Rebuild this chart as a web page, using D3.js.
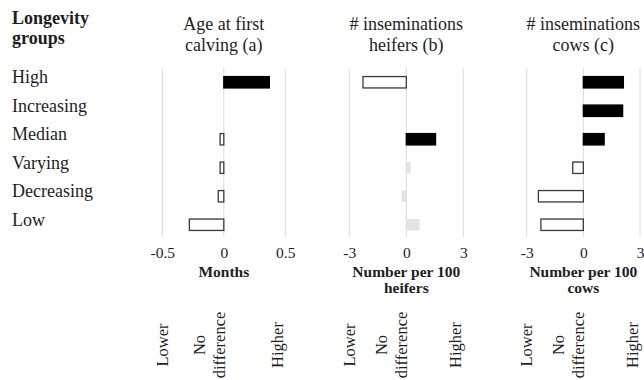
<!DOCTYPE html>
<html>
<head>
<meta charset="utf-8">
<script src="https://cdn.jsdelivr.net/npm/d3@7"></script>
<style>
  html, body { margin: 0; padding: 0; background: #fff; }
  svg { display: block; }
  text { font-family: "Liberation Serif", "Times New Roman", serif; fill: #1e1e1e; }
</style>
</head>
<body>
<svg id="chart" width="644" height="380"></svg>
<script>
// Longevity groups (rows)
const groups = ["High", "Increasing", "Median", "Varying", "Decreasing", "Low"];

// Differences relative to the reference; null = no bar
const ageFirstCalving = [0.37, null, -0.03, -0.03, -0.045, -0.28];   // months
const insemHeifers    = [-2.28, null, 1.54, 0.23, -0.25, 0.70];      // per 100 heifers
const insemCows       = [2.12, 2.08, 1.10, -0.56, -2.38, -2.25];     // per 100 cows

// Significance flags (1 = significant, 0 = not significant)
const sigAge     = [1, 0, 1, 1, 1, 1];
const sigHeifers = [1, 0, 1, 0, 0, 0];
const sigCows    = [1, 1, 1, 1, 1, 1];

// Tick values per panel
const ticksAge = [-0.5, 0, 0.5];
const ticksIns = [-3, 0, 3];

// Panel titles and axis titles
const panelTitles = [["Age at first", "calving (a)"], ["# inseminations", "heifers (b)"], ["# inseminations", "cows (c)"]];
const axisTitles  = [["Months"], ["Number per 100", "heifers"], ["Number per 100", "cows"]];
const directionLabels = ["Lower", "No", "difference", "Higher"];

const panels = [
  { values: ageFirstCalving, sig: sigAge,     ticks: ticksAge, range: [162.3, 285.3] },
  { values: insemHeifers,    sig: sigHeifers, ticks: ticksIns, range: [349.3, 463.3] },
  { values: insemCows,       sig: sigCows,    ticks: ticksIns, range: [526.7, 640.0] }
];

const svg = d3.select("#chart");
svg.append("rect").attr("width", 644).attr("height", 380).attr("fill", "#fff");

const gridTop = 68, gridBottom = 237;
const y = d3.scaleBand().domain(groups).range([68, 239]).paddingInner(0.6).paddingOuter(0.3);

// Header for the row labels
svg.append("text").attr("x", 12).attr("y", 24).attr("font-size", 18).attr("font-weight", "bold").text("Longevity");
svg.append("text").attr("x", 12).attr("y", 44).attr("font-size", 18).attr("font-weight", "bold").text("groups");

// Row labels
svg.append("g").selectAll("text").data(groups).join("text")
  .attr("x", 12)
  .attr("y", d => y(d) + y.bandwidth() / 2 + 0.8)
  .attr("font-size", 18)
  .text(d => d);

panels.forEach((p, i) => {
  const x = d3.scaleLinear().domain([p.ticks[0], p.ticks[p.ticks.length - 1]]).range(p.range);
  const g = svg.append("g");
  const x0 = x(0);

  // Vertical gridlines at each tick
  g.selectAll("line.grid").data(p.ticks).join("line")
    .attr("class", "grid")
    .attr("x1", d => x(d)).attr("x2", d => x(d))
    .attr("y1", gridTop).attr("y2", gridBottom)
    .attr("stroke", "#dadada").attr("stroke-width", 1);

  // Bars: black = significantly higher, white = significantly lower, grey = not significant
  const rows = groups.map((grp, j) => ({ grp, v: p.values[j], s: p.sig[j] })).filter(d => d.v !== null);
  g.selectAll("rect.bar").data(rows).join("rect")
    .attr("class", "bar")
    .attr("x", d => x(Math.min(0, d.v)))
    .attr("width", d => Math.abs(x(d.v) - x0))
    .attr("y", d => y(d.grp))
    .attr("height", y.bandwidth())
    .attr("fill", d => !d.s ? "#e3e3e3" : (d.v > 0 ? "#000" : "#fff"))
    .attr("stroke", d => !d.s ? "none" : (d.v > 0 ? "#000" : "#3a3a3a"))
    .attr("stroke-width", 1.3);

  // Tick labels
  const axis = d3.axisBottom(x).tickValues(p.ticks).tickSize(0).tickPadding(0).tickFormat(d => String(d));
  const ax = svg.append("g").attr("transform", "translate(0,246)").call(axis);
  ax.select(".domain").remove();
  ax.selectAll("text")
    .attr("font-size", 15.5)
    .attr("font-family", "Liberation Serif, serif")
    .attr("fill", "#1e1e1e")
    .attr("dy", "0.8em");

  // Panel title
  panelTitles[i].forEach((t, k) => {
    svg.append("text").attr("x", x0).attr("y", 30 + k * 20.5)
      .attr("text-anchor", "middle").attr("font-size", 18).text(t);
  });

  // Axis title
  axisTitles[i].forEach((t, k) => {
    svg.append("text").attr("x", x0).attr("y", 276.5 + k * 16.5)
      .attr("text-anchor", "middle").attr("font-size", 15.5).attr("font-weight", "bold").text(t);
  });

  // Direction labels (rotated)
  const L = x(p.ticks[0]), R = x(p.ticks[p.ticks.length - 1]);
  const pos = [L + 5.5, x0 - 19, x0 + 1, R - 2];
  directionLabels.forEach((t, k) => {
    svg.append("text")
      .attr("transform", `translate(${pos[k]},345) rotate(-90)`)
      .attr("text-anchor", "middle").attr("font-size", 16.5).text(t);
  });
});
</script>
</body>
</html>
